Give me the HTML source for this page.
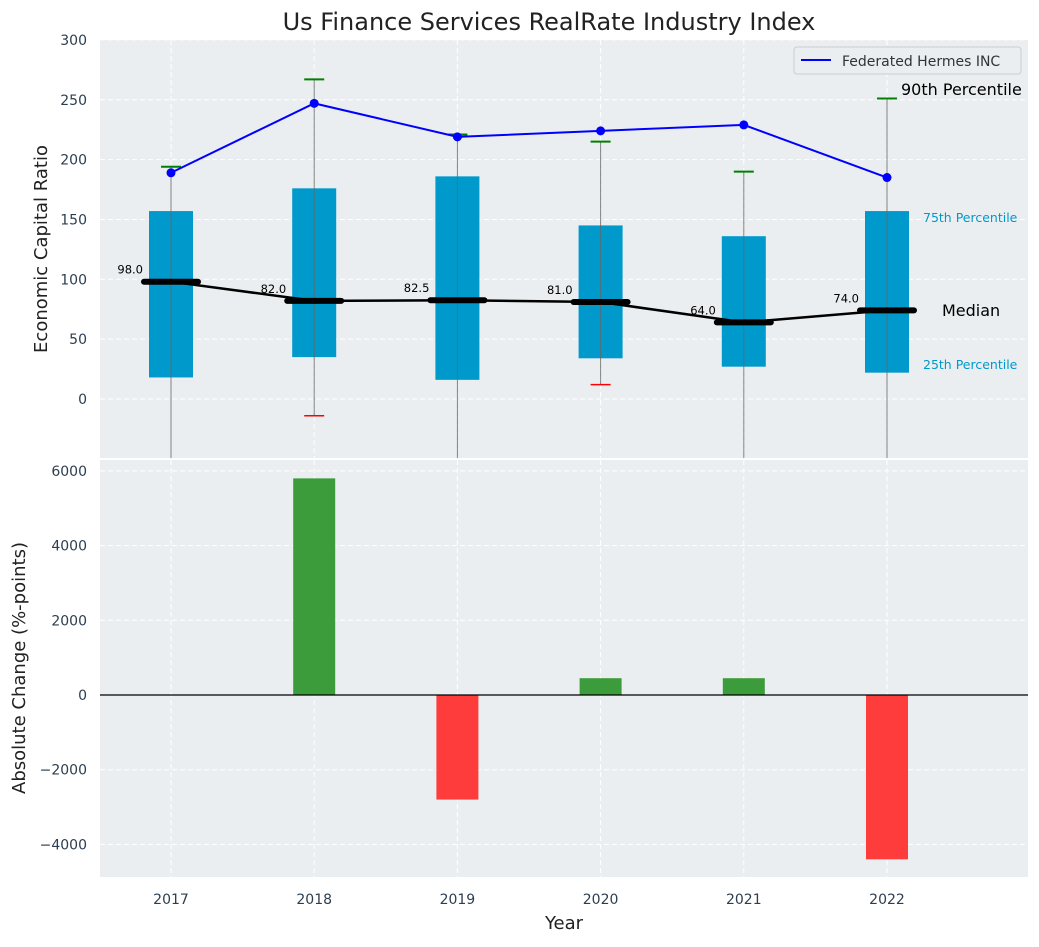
<!DOCTYPE html>
<html><head><meta charset="utf-8"><style>
body{margin:0;background:#fff;font-family:"Liberation Sans","DejaVu Sans",sans-serif}
svg text{font-family:"DejaVu Sans","Liberation Sans",sans-serif}
</style></head><body>
<svg id="c" width="1039" height="942" xmlns="http://www.w3.org/2000/svg"></svg>
<script>
const years=[2017,2018,2019,2020,2021,2022];
const p25=[18,35,16,34,27,22];
const p75=[157,176,186,145,136,157];
const p90=[194,267,221,215,190,251];
const p10=[-60,-14,-60,12,-60,-60];
const medians=[98,82,82.5,81,64,74];
const company=[189,247,219,224,229,185];
const changes=[0,5800,-2800,450,450,-4400];
const topTicks=[0,50,100,150,200,250,300];
const botTicks=[-4000,-2000,0,2000,4000,6000];

const svg=document.getElementById('c');
const NS='http://www.w3.org/2000/svg';
function el(t,a,p){const e=document.createElementNS(NS,t);for(const k in a)e.setAttribute(k,a[k]);(p||svg).appendChild(e);return e;}
const X0=100,X1=1028;
const x=v=>171+(v-2017)*143.2;
const yT=v=>399-v*1.197;
const yB=v=>695-v*0.03735;
const T0=40,T1=458,B0=460,B1=877;

// title
let t=el('text',{x:549,y:30,'font-size':24,'text-anchor':'middle',fill:'#222'});t.textContent='Us Finance Services RealRate Industry Index';


// top panel
let bg=el('rect',{x:X0,y:T0,width:X1-X0,height:T1-T0,fill:'#eaeef0'});

let bg2=el('rect',{x:X0,y:B0,width:X1-X0,height:B1-B0,fill:'#eaeef0'});


const clipT=el('clipPath',{id:'ct'});el('rect',{x:X0,y:T0,width:X1-X0,height:T1-T0},clipT);
const gT=el('g',{'clip-path':'url(#ct)'});


years.forEach(yr=>{el('line',{x1:x(yr),x2:x(yr),y1:T0,y2:T1,stroke:'#fff','stroke-dasharray':'5,3'},gT);
 el('line',{x1:x(yr),x2:x(yr),y1:B0,y2:B1,stroke:'#fff','stroke-dasharray':'5,3'});});
topTicks.forEach(v=>{el('line',{x1:X0,x2:X1,y1:yT(v),y2:yT(v),stroke:'#fff','stroke-dasharray':'5,3'},gT);
 let tt=el('text',{x:87,y:yT(v)+5,'font-size':14,'text-anchor':'end',fill:'#2d3e50'});tt.textContent=v;
 });

years.forEach((yr,i)=>{
 const cx=x(yr);
 let b=el('rect',{x:cx-22,y:yT(p75[i]),width:44,height:yT(p25[i])-yT(p75[i]),fill:'#0099cc'},gT);
 
 el('line',{x1:cx,x2:cx,y1:yT(p10[i]),y2:yT(p90[i]),stroke:'#666','stroke-width':1,opacity:0.8},gT);
 el('line',{x1:cx-10,x2:cx+10,y1:yT(p90[i]),y2:yT(p90[i]),stroke:'green','stroke-width':2},gT);
 el('line',{x1:cx-10,x2:cx+10,y1:yT(p10[i]),y2:yT(p10[i]),stroke:'red','stroke-width':1.5},gT);
});
// median line
let mp=el('polyline',{points:years.map((yr,i)=>x(yr)+','+yT(medians[i])).join(' '),fill:'none',stroke:'#000','stroke-width':2.5},gT);

years.forEach((yr,i)=>{
 el('line',{x1:x(yr)-27,x2:x(yr)+27,y1:yT(medians[i]),y2:yT(medians[i]),stroke:'#000','stroke-width':6,'stroke-linecap':'round'},gT);
 let lt=el('text',{x:x(yr)-28,y:yT(medians[i])-8,'font-size':11.5,'text-anchor':'end',fill:'#000'},gT);lt.textContent=medians[i].toFixed(1);
 
});
let cl=el('polyline',{points:years.map((yr,i)=>x(yr)+','+yT(company[i])).join(' '),fill:'none',stroke:'blue','stroke-width':2},gT);

years.forEach((yr,i)=>{let d=el('circle',{cx:x(yr),cy:yT(company[i]),r:4.5,fill:'blue'},gT);
 });

// annotations
[['90th Percentile',901,95,16,'#000'],['75th Percentile',923,222,12.5,'#0099cc'],['Median',942,316,16,'#000'],['25th Percentile',923,369,12.5,'#0099cc']].forEach(a=>{
 let e=el('text',{x:a[1],y:a[2],'font-size':a[3],fill:a[4]});e.textContent=a[0];
 });

// legend
let lg=el('g',{});
el('rect',{x:794,y:47,width:227,height:27,rx:3,fill:'#eaeef0',stroke:'#ccc'},lg);
el('line',{x1:801,x2:831,y1:60,y2:60,stroke:'blue','stroke-width':2},lg);
let lt=el('text',{x:842,y:66,'font-size':14,fill:'#333'},lg);lt.textContent='Federated Hermes INC';

// bottom
botTicks.forEach(v=>{el('line',{x1:X0,x2:X1,y1:yB(v),y2:yB(v),stroke:'#fff','stroke-dasharray':'5,3'});
 let tt=el('text',{x:87,y:yB(v)+5,'font-size':14,'text-anchor':'end',fill:'#2d3e50'});tt.textContent=v<0?'\u2212'+(-v):v;
 });
years.forEach((yr,i)=>{const v=changes[i];
 let b=el('rect',{x:x(yr)-21,y:Math.min(yB(v),yB(0)),width:42,height:Math.abs(yB(v)-yB(0)),fill:v>=0?'#3c9c3c':'#ff3c3c'});
 
 let xt=el('text',{x:x(yr),y:904,'font-size':14,'text-anchor':'middle',fill:'#2d3e50'});xt.textContent=yr;
 });
el('line',{x1:X0,x2:X1,y1:yB(0),y2:yB(0),stroke:'#000','stroke-width':1.2});

let a1=el('text',{x:47,y:249,'font-size':18,'text-anchor':'middle',fill:'#222',transform:'rotate(-90 47 249)'});a1.textContent='Economic Capital Ratio';

let a2=el('text',{x:25,y:668,'font-size':18,'text-anchor':'middle',fill:'#222',transform:'rotate(-90 25 668)'});a2.textContent='Absolute Change (%-points)';

let a3=el('text',{x:564,y:929,'font-size':18,'text-anchor':'middle',fill:'#222'});a3.textContent='Year';

</script>
</body></html>
